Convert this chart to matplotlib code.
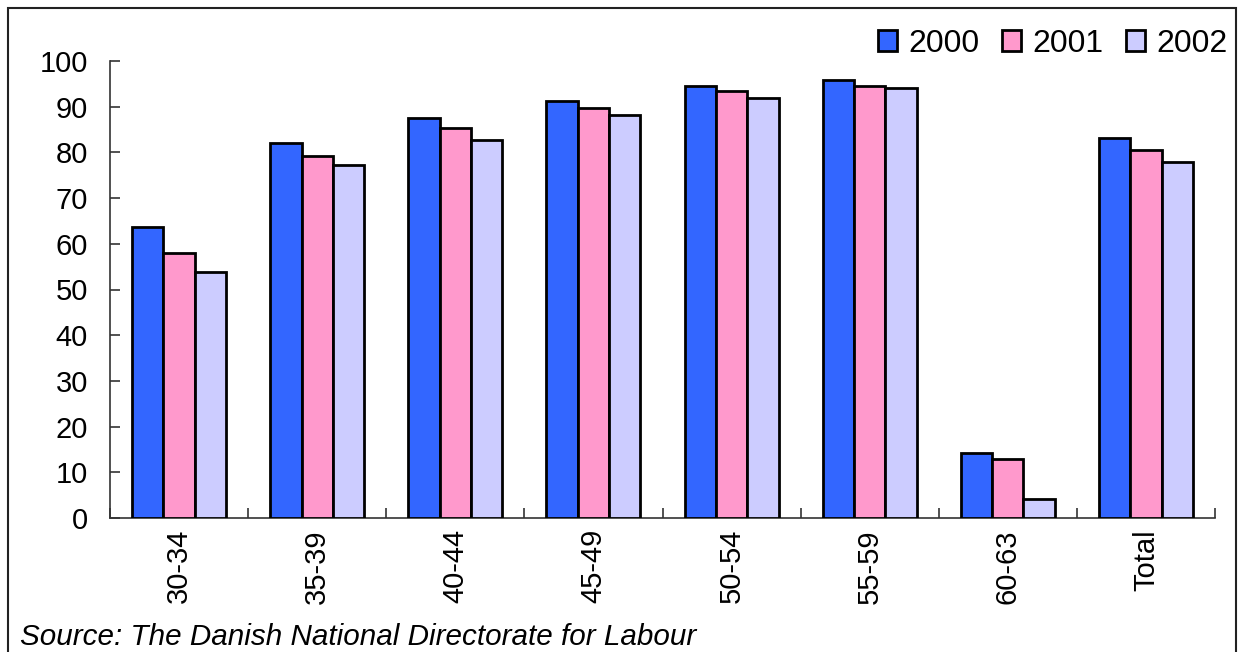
import numpy as np
import matplotlib.pyplot as plt
from matplotlib.patches import Rectangle

plt.rcParams['font.family'] = ['Liberation Sans', 'DejaVu Sans']

groups = ['30-34', '35-39', '40-44', '45-49', '50-54', '55-59', '60-63', 'Total']
v2000 = [63.7, 82.0, 87.5, 91.2, 94.5, 95.8, 14.2, 83.2]
v2001 = [58.0, 79.2, 85.3, 89.7, 93.4, 94.5, 12.9, 80.5]
v2002 = [53.8, 77.2, 82.7, 88.2, 91.9, 94.1, 4.2, 77.9]
years = ['2000', '2001', '2002']
colors = ['#3366FF', '#FF99CC', '#CCCCFF']

fig = plt.figure(figsize=(12.39, 6.52), dpi=100)
ax = fig.add_axes([110 / 1239, 1 - 518 / 652, 1105 / 1239, 457 / 652])

x = np.arange(len(groups))
w = 0.227
for i, (vals, c, lab) in enumerate(zip([v2000, v2001, v2002], colors, years)):
    ax.bar(x + (i - 1) * w, vals, w, color=c, edgecolor='black', linewidth=2, label=lab, zorder=3)

ax.set_xlim(-0.5, len(groups) - 0.5)
ax.set_ylim(0, 100)
ax.set_yticks(range(0, 101, 10))
ax.set_xticks(x)
ax.set_xticklabels(groups, rotation=90, fontsize=21)
ax.set_xticks(np.arange(-0.5, len(groups), 1), minor=True)
ax.tick_params(axis='x', which='major', length=0, pad=8)
ax.tick_params(axis='x', which='minor', direction='in', length=7, width=1.2, color='#333333')
ax.tick_params(axis='y', direction='in', length=7, width=1.2, color='#333333', labelsize=21, pad=16)
for s in ['top', 'right']:
    ax.spines[s].set_visible(False)
for s in ['left', 'bottom']:
    ax.spines[s].set_color('#333333')
    ax.spines[s].set_linewidth(1.2)

fig.legend(loc='upper right', bbox_to_anchor=(1256 / 1239, 1.0), ncol=3, frameon=False,
           fontsize=23, handlelength=0.6, handleheight=0.6, handletextpad=0.35,
           columnspacing=0.7)

fig.text(20 / 1239, 1 - 637 / 652, 'Source: The Danish National Directorate for Labour',
         fontsize=21.3, style='italic', va='center', ha='left')

fig.patches.append(Rectangle((8 / 1239, -0.05), 1228 / 1239, 1.05 - 8 / 652,
                             transform=fig.transFigure, fill=False, edgecolor='#222222',
                             linewidth=1.5))

fig.savefig('out.png', dpi=100)
